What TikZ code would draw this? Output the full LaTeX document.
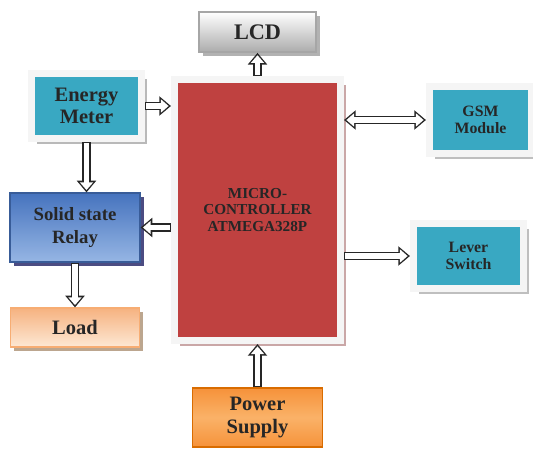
\documentclass[tikz,border=0pt]{standalone}
\usepackage{fontspec}
\setmainfont{Liberation Serif}
\usetikzlibrary{positioning, arrows.meta, shadows}

\definecolor{tealbox}{RGB}{57,168,194}
\definecolor{mcred}{RGB}{191,65,64}
\definecolor{relaytop}{RGB}{70,115,190}
\definecolor{relaybot}{RGB}{150,182,228}
\definecolor{loadtop}{RGB}{246,178,128}
\definecolor{loadbot}{RGB}{253,232,212}
\definecolor{powerout}{RGB}{246,146,58}
\definecolor{powermid}{RGB}{250,178,104}

\begin{document}
\begin{tikzpicture}[node distance=3cm, on grid,
    box/.style={rectangle, align=center, text=black!85, inner sep=0pt},
    framed/.style={box, draw=white!92!gray, line width=6pt,
        general shadow={shadow xshift=5pt, shadow yshift=-5pt, fill=#1}},
    Hout/.tip={Triangle[length=10pt, width=16pt]},
    Hin/.tip={Triangle[length=6.6pt, width=11pt]},
    hollow/.style={draw=white, line width=4.8pt, arrows=-Hin,
        shorten >=2pt, shorten <=1.2pt,
        preaction={draw=black!85, line width=7.2pt, arrows=-Hout, shorten >=0pt, shorten <=0pt}},
    hollow both/.style={draw=white, line width=4.8pt, arrows=Hin-Hin,
        shorten >=2pt, shorten <=2pt,
        preaction={draw=black!85, line width=7.2pt, arrows=Hout-Hout, shorten >=0pt, shorten <=0pt}}]
    \useasboundingbox (0,0) rectangle (15.99,13.53);

    % Blocks
    \node[framed=red!25!gray!55, fill=mcred, minimum width=4.98cm, minimum height=7.83cm,
        font=\fontsize{13}{14}\selectfont\bfseries] (mcu) at (7.725,7.23)
        {MICRO-\\CONTROLLER\\ATMEGA328P};
    \node[box, draw=gray!70, line width=1.5pt, top color=white, bottom color=gray!65,
        general shadow={shadow xshift=3pt, shadow yshift=-3pt, fill=gray!60},
        minimum width=3.51cm, minimum height=1.2cm, font=\fontsize{19}{20}\selectfont\bfseries,
        above=5.34cm of mcu] (lcd) {LCD};
    \node[framed=gray!55, fill=tealbox, minimum width=3.3cm, minimum height=1.95cm,
        font=\fontsize{17.5}{19}\selectfont\bfseries,
        above left=3.12cm and 5.13cm of mcu] (meter) {Energy\\Meter};
    \node[box, draw=relaytop!80!black, line width=1pt, top color=relaytop, bottom color=relaybot,
        general shadow={shadow xshift=3pt, shadow yshift=-3pt, fill=blue!30!black!70},
        minimum width=3.9cm, minimum height=2.07cm, font=\fontsize{16}{19}\selectfont\bfseries,
        below left=0.525cm and 5.475cm of mcu] (relay) {Solid state\\Relay};
    \node[box, draw=loadtop!90!orange, line width=1pt, top color=loadtop, bottom color=loadbot,
        general shadow={shadow xshift=3pt, shadow yshift=-3pt, fill=brown!50!gray!70},
        minimum width=3.87cm, minimum height=1.17cm,
        font=\fontsize{17.5}{19}\selectfont\bfseries,
        below=3cm of relay] (load) {Load};
    \node[framed=gray!50, fill=tealbox, minimum width=3.06cm, minimum height=2.01cm,
        font=\fontsize{13.5}{15}\selectfont\bfseries,
        above right=2.7cm and 6.69cm of mcu] (gsm) {GSM\\Module};
    \node[framed=gray!50, fill=tealbox, minimum width=3.3cm, minimum height=1.95cm,
        font=\fontsize{13.5}{15}\selectfont\bfseries,
        below right=1.38cm and 6.33cm of mcu] (lever) {Lever\\Switch};
    \node[box, draw=orange!85!black, line width=1pt, top color=powerout, bottom color=powerout,
        middle color=powermid, minimum width=3.9cm, minimum height=1.77cm,
        font=\fontsize{17.5}{20}\selectfont\bfseries,
        below=6.225cm of mcu] (power) {Power\\Supply};

    % Connections
    \path
        (mcu.north) edge[hollow] (mcu.north |- lcd.south)
        (meter.east) edge[hollow] (meter.east -| mcu.west)
        (meter.south) edge[hollow] (meter.south |- relay.north)
        (mcu.west |- relay.east) edge[hollow] (relay.east)
        (relay.south) edge[hollow] (relay.south |- load.north)
        (mcu.east |- gsm.west) edge[hollow both] (gsm.west)
        (mcu.east |- lever.west) edge[hollow] (lever.west)
        (power.north) edge[hollow] (power.north |- mcu.south);
\end{tikzpicture}
\end{document}
